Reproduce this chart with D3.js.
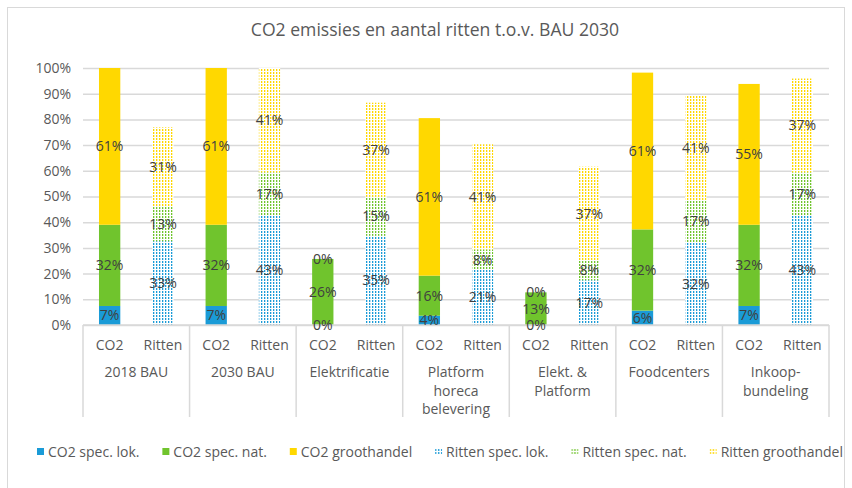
<!DOCTYPE html>
<html>
<head>
<meta charset="utf-8">
<script src="https://cdn.jsdelivr.net/npm/d3@7"></script>
<style>
  body { margin: 0; background: #fff; }
  text { font-family: "Open Sans", sans-serif; }
</style>
</head>
<body>
<svg id="chart" width="852" height="488"></svg>
<script>
// categories and the two bars in each group
const categories = [["2018 BAU"], ["2030 BAU"], ["Elektrificatie"], ["Platform", "horeca", "belevering"],
    ["Elekt. &", "Platform"], ["Foodcenters"], ["Inkoop-", "bundeling"]];
const subs = ["CO2", "Ritten"];

// values in %
const co2Lok = [7.4, 7.4, 0, 3.6, 0, 5.6, 7.4];
const co2Nat = [31.6, 31.6, 25.7, 15.6, 12.7, 31.6, 31.6];
const co2Groot = [61.0, 61.0, 0, 61.3, 0, 61.0, 54.8];
const rittenLok = [32.6, 42.6, 34.7, 21.4, 17.4, 32.0, 42.6];
const rittenNat = [13.3, 16.8, 15.2, 8.0, 7.6, 16.6, 16.8];
const rittenGroot = [31.0, 40.6, 36.6, 40.9, 36.6, 40.6, 36.5];

const yTicks = [0, 10, 20, 30, 40, 50, 60, 70, 80, 90, 100];

const series = [
    { name: "CO2 spec. lok.", sub: "CO2", values: co2Lok, color: "#1a9bd7", hatch: false },
    { name: "CO2 spec. nat.", sub: "CO2", values: co2Nat, color: "#70c42d", hatch: false },
    { name: "CO2 groothandel", sub: "CO2", values: co2Groot, color: "#ffd800", hatch: false },
    { name: "Ritten spec. lok.", sub: "Ritten", values: rittenLok, color: "#1a9bd7", hatch: true },
    { name: "Ritten spec. nat.", sub: "Ritten", values: rittenNat, color: "#70c42d", hatch: true },
    { name: "Ritten groothandel", sub: "Ritten", values: rittenGroot, color: "#ffd800", hatch: true }
];

const svg = d3.select("#chart");
const margin = { top: 68, left: 83, right: 23, bottom: 163 };
const width = 852, height = 488;
const fs = 14;

// chart border
svg.append("rect")
    .attr("x", 7.5).attr("y", 7.5)
    .attr("width", 837).attr("height", 490)
    .attr("fill", "#fff").attr("stroke", "#d9d9d9");

// dotted patterns for the Ritten bars
const defs = svg.append("defs");
series.filter(s => s.hatch).forEach((s, i) => {
    const p = defs.append("pattern")
        .attr("id", "dots" + i)
        .attr("patternUnits", "userSpaceOnUse")
        .attr("width", 3).attr("height", 3);
    p.append("rect").attr("width", 3).attr("height", 3).attr("fill", "#fff");
    p.append("rect").attr("width", 1.3).attr("height", 2).attr("fill", s.color);
    s.fill = "url(#dots" + i + ")";
});
series.filter(s => !s.hatch).forEach(s => s.fill = s.color);

const x0 = d3.scaleBand()
    .domain(d3.range(categories.length))
    .range([margin.left, width - margin.right]);
const x1 = d3.scalePoint()
    .domain(subs)
    .range([0, x0.bandwidth()])
    .padding(0.5);
const barW = x1.step() * 0.4;

const y = d3.scaleLinear()
    .domain([0, 100])
    .range([height - margin.bottom, margin.top]);

// title
svg.append("text")
    .attr("x", 435).attr("y", 36)
    .attr("text-anchor", "middle")
    .attr("font-size", 17.6)
    .attr("fill", "#595959")
    .text("CO2 emissies en aantal ritten t.o.v. BAU 2030");

// y axis + gridlines
const yAxis = svg.append("g")
    .attr("transform", `translate(${margin.left},0)`)
    .call(d3.axisLeft(y).tickValues(yTicks).tickFormat(d => d + "%")
        .tickSize(-(width - margin.left - margin.right)).tickPadding(12));
yAxis.select(".domain").remove();
yAxis.selectAll(".tick line").attr("stroke", "#d9d9d9").attr("stroke-width", 1.5);
yAxis.selectAll(".tick text").attr("font-size", fs).attr("fill", "#595959")
    .attr("font-family", "Open Sans, sans-serif");

// stacked bars
const stackBase = {};
series.forEach(s => {
    s.stacked = s.values.map((v, i) => {
        const key = s.sub + i;
        const base = stackBase[key] || 0;
        stackBase[key] = base + v;
        return [base, base + v];
    });
});

const barG = svg.append("g");
series.forEach(s => {
    barG.selectAll(null)
        .data(s.stacked)
        .enter().append("rect")
        .attr("x", (d, i) => x0(i) + x1(s.sub) - barW / 2)
        .attr("y", d => y(d[1]))
        .attr("width", barW)
        .attr("height", d => y(d[0]) - y(d[1]))
        .attr("fill", s.fill);
});

// axis base line and group separators
svg.append("line")
    .attr("x1", margin.left).attr("x2", width - margin.right)
    .attr("y1", y(0)).attr("y2", y(0))
    .attr("stroke", "#d9d9d9").attr("stroke-width", 1.5);
svg.append("g").selectAll("line")
    .data(d3.range(categories.length + 1))
    .enter().append("line")
    .attr("x1", i => i < categories.length ? x0(i) : x0.range()[1])
    .attr("x2", i => i < categories.length ? x0(i) : x0.range()[1])
    .attr("y1", y(0)).attr("y2", y(0) + 92)
    .attr("stroke", "#d9d9d9").attr("stroke-width", 1.5);

// value labels
const labG = svg.append("g");
series.forEach(s => {
    labG.selectAll(null)
        .data(s.stacked)
        .enter().append("text")
        .attr("x", (d, i) => x0(i) + x1(s.sub))
        .attr("y", d => y((d[0] + d[1]) / 2))
        .attr("dy", "0.35em")
        .attr("text-anchor", "middle")
        .attr("font-size", fs)
        .attr("fill", "#404040")
        .text((d, i) => Math.round(s.values[i]) + "%");
});

// sub labels and category labels
const catG = svg.append("g").selectAll("g")
    .data(categories)
    .enter().append("g")
    .attr("transform", (d, i) => `translate(${x0(i)},0)`);
subs.forEach(sb => {
    catG.append("text")
        .attr("x", x1(sb)).attr("y", 350)
        .attr("text-anchor", "middle")
        .attr("font-size", fs).attr("fill", "#595959")
        .text(sb);
});
catG.each(function(lines) {
    d3.select(this).selectAll(null)
        .data(lines)
        .enter().append("text")
        .attr("x", x0.bandwidth() / 2)
        .attr("y", (d, j) => 377 + j * 18.5)
        .attr("text-anchor", "middle")
        .attr("font-size", fs).attr("fill", "#595959")
        .text(d => d);
});

// legend, spread between x=37 and x=843
const leg = svg.append("g").attr("transform", "translate(37,452)");
const items = series.map(s => {
    const item = leg.append("g");
    item.append("rect").attr("x", 0).attr("y", -4).attr("width", 7).attr("height", 7).attr("fill", s.fill);
    const t = item.append("text").attr("x", 11).attr("y", 0).attr("dy", "0.35em")
        .attr("font-size", fs).attr("fill", "#595959").text(s.name);
    return { item: item, w: 11 + t.node().getComputedTextLength() };
});
const gap = (843 - 37 - d3.sum(items, d => d.w)) / (items.length - 1);
let lx = 0;
items.forEach(d => {
    d.item.attr("transform", `translate(${lx},0)`);
    lx += d.w + gap;
});
</script>
</body>
</html>
